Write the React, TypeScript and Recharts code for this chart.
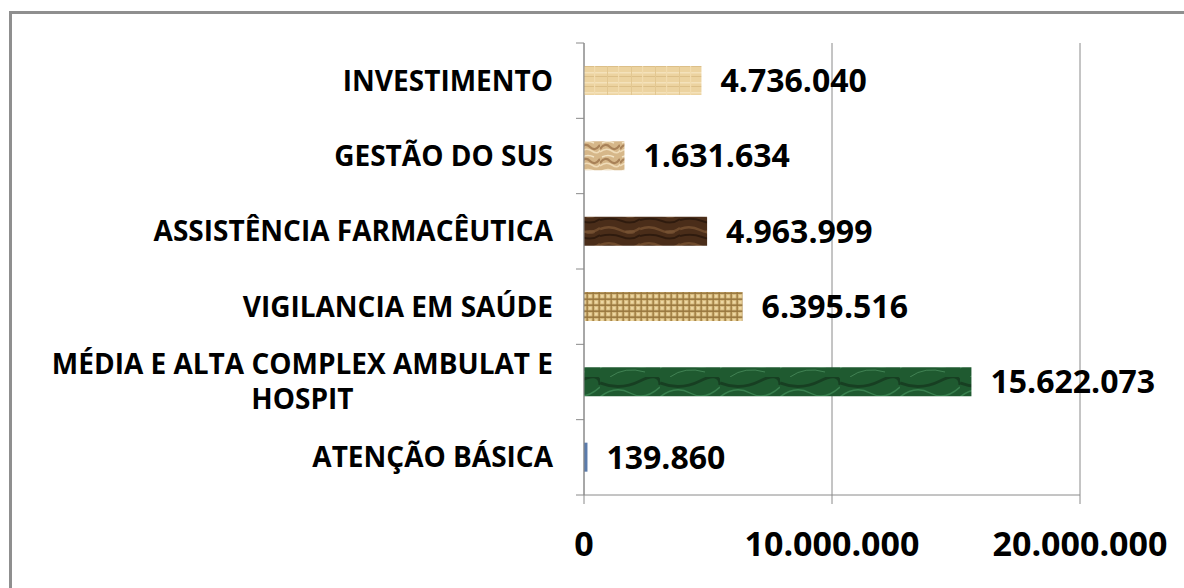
import React from "react";
import {
  Bar,
  BarChart,
  CartesianGrid,
  Cell,
  LabelList,
  XAxis,
  YAxis,
} from "recharts";

const categories = [
  "INVESTIMENTO",
  "GESTÃO DO SUS",
  "ASSISTÊNCIA FARMACÊUTICA",
  "VIGILANCIA EM SAÚDE",
  "MÉDIA E ALTA COMPLEX AMBULAT E\nHOSPIT",
  "ATENÇÃO BÁSICA",
];
const values = [4736040, 1631634, 4963999, 6395516, 15622073, 139860];
const xTicks = [0, 10000000, 20000000];

const fills = [
  "url(#papyrus)",
  "url(#swirl)",
  "url(#wood)",
  "url(#burlap)",
  "url(#marble)",
  "#5b7bab",
];

const data = categories.map((name, i) => ({ name, value: values[i] }));

const FONT = "'Open Sans', 'DejaVu Sans', sans-serif";
const AXIS = "#8a8a8a";
const AXIS_X = 584;
const CAT_SIZE = 28;

const fmt = (v: number) => String(v).replace(/\B(?=(\d{3})+(?!\d))/g, ".");

let canvas: HTMLCanvasElement | null = null;
const measure = (s: string) => {
  if (!canvas) canvas = document.createElement("canvas");
  const ctx = canvas.getContext("2d")!;
  ctx.font = `bold ${CAT_SIZE}px 'Open Sans'`;
  return ctx.measureText(s).width;
};

const CategoryTick = (props: any) => {
  const { x, y, payload, index, visibleTicksCount } = props;
  const half = payload?.offset ?? 37.7;
  const lines = String(payload.value).split("\n");
  const right = x;
  const marks = [y - half];
  if (index === (visibleTicksCount ?? categories.length) - 1) marks.push(y + half);
  let text;
  if (lines.length === 1) {
    text = (
      <text
        x={right}
        y={y + 10}
        textAnchor="end"
        fontFamily={FONT}
        fontWeight="bold"
        fontSize={CAT_SIZE}
        fill="#000"
      >
        {lines[0]}
      </text>
    );
  } else {
    const cx = right - measure(lines[0]) / 2;
    text = (
      <text
        textAnchor="middle"
        fontFamily={FONT}
        fontWeight="bold"
        fontSize={CAT_SIZE}
        fill="#000"
      >
        <tspan x={cx} y={y - 8}>
          {lines[0]}
        </tspan>
        <tspan x={cx} y={y + 27}>
          {lines[1]}
        </tspan>
      </text>
    );
  }
  return (
    <g>
      {marks.map((my, i) => (
        <line key={i} x1={AXIS_X - 8} x2={AXIS_X} y1={my} y2={my} stroke={AXIS} />
      ))}
      {text}
    </g>
  );
};

const ValueTick = (props: any) => {
  const { x, y, payload } = props;
  return (
    <text
      x={x}
      y={y + 52}
      textAnchor="middle"
      fontFamily={FONT}
      fontWeight="bold"
      fontSize={34}
      fill="#000"
    >
      {fmt(payload.value)}
    </text>
  );
};

export default function App() {
  return (
    <div
      style={{
        position: "fixed",
        left: 0,
        top: 0,
        width: 1184,
        height: 588,
        overflow: "hidden",
        background: "#fff",
      }}
    >
      <div
        style={{
          position: "absolute",
          left: 9,
          top: 11,
          width: 1300,
          height: 700,
          borderTop: "3px solid #8f8f8f",
          borderLeft: "3px solid #8f8f8f",
        }}
      />
      <div style={{ position: "absolute", left: 0, top: 0 }}>
        <BarChart
          width={1184}
          height={588}
          data={data}
          layout="vertical"
          margin={{ top: 43, right: 104, bottom: 0, left: 0 }}
          barCategoryGap={0}
        >
          <defs>
            <pattern id="papyrus" width="24" height="10" patternUnits="userSpaceOnUse">
              <rect width="24" height="10" fill="#ecd3a0" />
              <rect y="2" width="24" height="1.5" fill="#f4e2bb" />
              <rect y="6" width="24" height="1" fill="#dcbf88" />
              <rect x="7" width="1" height="10" fill="#e2c791" />
              <rect x="18" width="1.2" height="10" fill="#f2dcae" />
            </pattern>
            <pattern id="swirl" width="20" height="14" patternUnits="userSpaceOnUse">
              <rect width="20" height="14" fill="#d6b789" />
              <path d="M0 9 Q5 2 10 7 T20 5" stroke="#a98258" strokeWidth="2.2" fill="none" />
              <path d="M0 12 Q6 7 12 11 T20 10" stroke="#f0dcb8" strokeWidth="1.6" fill="none" />
              <path d="M2 3 Q8 0 14 3" stroke="#f3e4c6" strokeWidth="1.4" fill="none" />
            </pattern>
            <pattern id="wood" width="40" height="16" patternUnits="userSpaceOnUse">
              <rect width="40" height="16" fill="#4a2d19" />
              <path d="M0 5 Q10 1 20 6 T40 4" stroke="#6e4a2c" strokeWidth="2.5" fill="none" />
              <path d="M0 12 Q12 9 22 13 T40 11" stroke="#2f1b0e" strokeWidth="2" fill="none" />
              <ellipse cx="30" cy="8" rx="5" ry="2" fill="#7a5535" opacity="0.6" />
            </pattern>
            <pattern id="burlap" width="6" height="6" patternUnits="userSpaceOnUse">
              <rect width="6" height="6" fill="#d8bc80" />
              <rect x="0" y="4.5" width="6" height="1.3" fill="#8d6b34" />
              <rect x="4.5" y="0" width="1.3" height="6" fill="#9a773c" />
              <rect x="1" y="1" width="2.5" height="2.5" fill="#ecd6a2" />
            </pattern>
            <pattern id="marble" width="60" height="29" patternUnits="userSpaceOnUse">
              <rect width="60" height="29" fill="#1f5a30" />
              <path d="M0 20 Q15 8 30 16 T60 10" stroke="#3e8a55" strokeWidth="1.4" fill="none" opacity="0.8" />
              <path d="M0 6 Q20 14 40 4 T60 8" stroke="#173f22" strokeWidth="3" fill="none" />
              <path d="M10 29 Q25 18 45 24" stroke="#5aa06d" strokeWidth="0.8" fill="none" opacity="0.7" />
            </pattern>
          </defs>
          <CartesianGrid horizontal={false} stroke={AXIS} strokeWidth={1} />
          <XAxis
            type="number"
            domain={[0, 20000000]}
            ticks={xTicks}
            height={93}
            stroke={AXIS}
            tickSize={9}
            tickMargin={0}
            tick={<ValueTick />}
            interval={0}
          />
          <YAxis
            type="category"
            dataKey="name"
            width={AXIS_X}
            stroke={AXIS}
            tickLine={false}
            tickSize={8}
            tickMargin={23}
            tick={<CategoryTick />}
            interval={0}
          />
          <Bar dataKey="value" barSize={29} isAnimationActive={false}>
            {data.map((d, i) => (
              <Cell key={d.name} fill={fills[i]} />
            ))}
            <LabelList
              dataKey="value"
              position="right"
              offset={19}
              formatter={(v: any) => fmt(Number(v))}
              style={{
                fontFamily: FONT,
                fontWeight: "bold",
                fontSize: 32,
                fill: "#000",
              }}
            />
          </Bar>
        </BarChart>
      </div>
    </div>
  );
}
